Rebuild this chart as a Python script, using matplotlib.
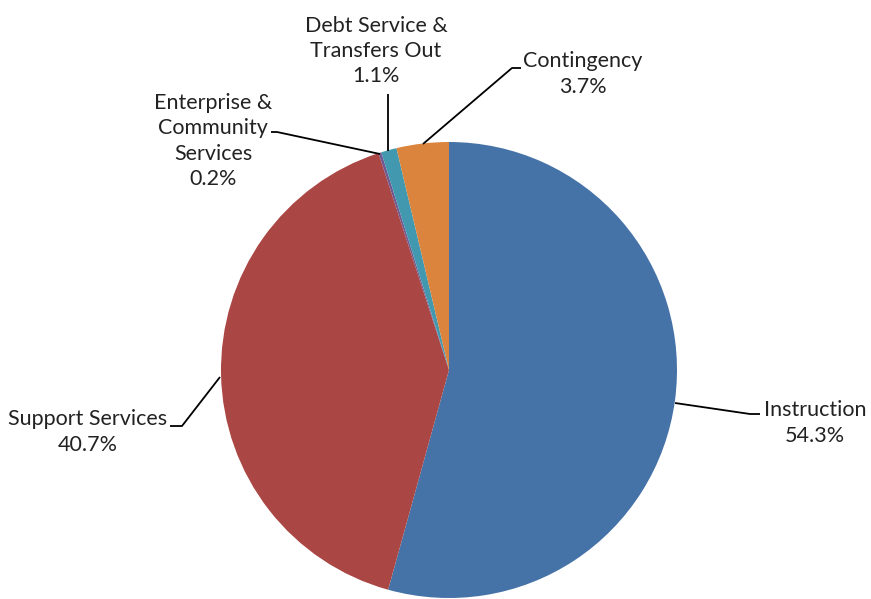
import matplotlib.pyplot as plt

# slice data (clockwise from 12 o'clock)
categories = ["Instruction", "Support Services", "Enterprise &\nCommunity\nServices",
              "Debt Service &\nTransfers Out", "Contingency"]
shares = [54.3, 40.7, 0.2, 1.1, 3.7]
colors = ["#4572A7", "#AA4643", "#71588F", "#4198AF", "#DB843D"]

W, H = 871, 599
fig = plt.figure(figsize=(W / 100, H / 100), dpi=100)
ax = fig.add_axes([0, 0, 1, 1])

cx, cy, r = 449, H - 370, 228
ax.pie(shares, colors=colors, startangle=90, counterclock=False,
       center=(cx, cy), radius=r, wedgeprops=dict(linewidth=0),
       frame=True)
ax.set_xlim(0, W)
ax.set_ylim(0, H)
ax.set_aspect("equal")
ax.axis("off")

# leader lines (pixel coords, top-left origin) and label anchors
leaders = [
    [(675, 403), (750, 414), (760, 414)],
    [(220, 377), (182, 426), (170, 426)],
    [(380, 154), (277, 132), (271, 132)],
    [(388, 151), (388, 94)],
    [(423, 144), (512, 68), (521, 68)],
]
label_pos = [(815, 423), (88, 432), (213, 141), (376, 51), (583, 74)]

for lines, (tx, ty), name, v in zip(leaders, label_pos, categories, shares):
    xs = [p[0] for p in lines]
    ys = [H - p[1] for p in lines]
    ax.plot(xs, ys, color="black", lw=1.3, solid_capstyle="butt")
    ax.text(tx, H - ty, f"{name}\n{v:.1f}%", ha="center", va="center",
            fontsize=15.5, color="#222222", linespacing=1.33,
            family=['Lato', 'DejaVu Sans'])

fig.savefig("out.png", dpi=100)
